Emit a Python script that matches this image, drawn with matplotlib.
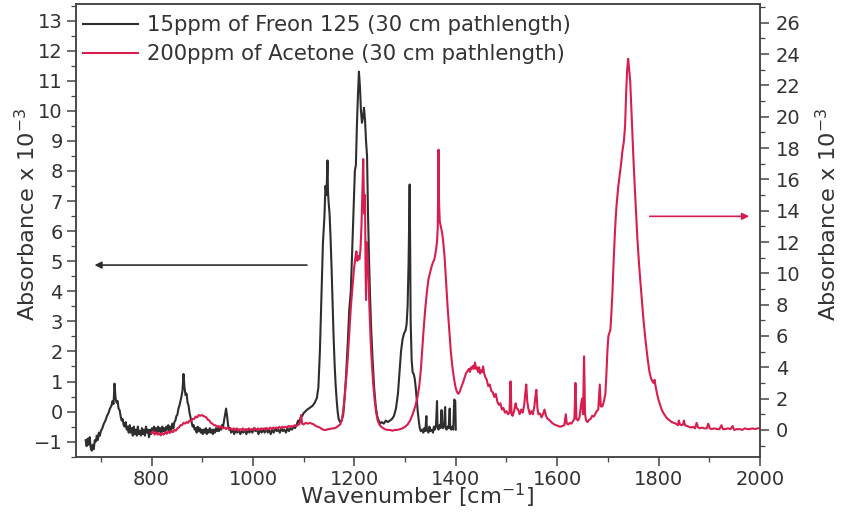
import matplotlib
matplotlib.use("Agg")
import matplotlib.pyplot as plt
from matplotlib.ticker import MultipleLocator
from matplotlib.lines import Line2D

plt.rcParams['font.family'] = ['DejaVu Sans']
plt.rcParams['mathtext.default'] = 'regular'

# ---------------- data ----------------
freon_x = [670, 672, 674, 676, 678, 680, 682, 684, 686, 688, 690, 692, 694, 696, 698, 700, 703, 706, 709, 712,
           715, 718, 721, 723, 725, 727, 729, 731, 733, 735, 737, 739, 741, 743, 745, 747, 749, 751, 753, 755,
           757, 759, 761, 763, 765, 767, 769, 771, 773, 775, 777, 779, 781, 783, 785, 787, 789, 791, 793, 795,
           797, 799, 801, 803, 805, 807, 809, 811, 813, 815, 817, 819, 821, 823, 825, 827, 829, 831, 833, 835,
           837, 839, 841, 843, 845, 847, 849, 851, 853, 855, 857, 859, 861, 863, 865, 867, 869, 871, 873, 875,
           877, 879, 881, 883, 885, 887, 889, 891, 893, 895, 897, 899, 901, 903, 905, 907, 909, 911, 913, 915,
           917, 919, 921, 923, 925, 927, 929, 931, 933, 935, 937, 939, 941, 943, 945, 947, 949, 951, 953, 955,
           957, 960, 963, 966, 969, 972, 975, 978, 981, 984, 987, 990, 993, 996, 999, 1002, 1005, 1008, 1011, 1014,
           1017, 1020, 1023, 1026, 1029, 1032, 1035, 1038, 1041, 1044, 1047, 1050, 1053, 1056, 1059, 1062, 1065, 1068, 1071, 1074,
           1077, 1080, 1083, 1086, 1089, 1091, 1094, 1097, 1100, 1103, 1106, 1110, 1114, 1118, 1122, 1126, 1129, 1132, 1135, 1138,
           1141, 1143, 1145, 1147, 1148, 1149, 1151, 1153, 1155, 1157, 1159, 1161, 1163, 1165, 1167, 1169, 1172, 1175, 1178, 1181,
           1184, 1187, 1190, 1193, 1196, 1199, 1201, 1203, 1205, 1207, 1209, 1211, 1213, 1215, 1217, 1219, 1221, 1223, 1225, 1227,
           1229, 1231, 1233, 1236, 1239, 1242, 1245, 1248, 1251, 1254, 1258, 1262, 1266, 1270, 1274, 1278, 1282, 1286, 1289, 1292,
           1295, 1298, 1301, 1303, 1305, 1307, 1309, 1310, 1311, 1313, 1315, 1317, 1319, 1321, 1323, 1325, 1327, 1329, 1331, 1334,
           1336, 1338, 1340, 1342, 1343, 1346, 1348, 1350, 1353, 1355, 1357, 1359, 1361, 1363, 1364, 1366, 1368, 1370, 1372, 1373,
           1375, 1377, 1379, 1380, 1382, 1384, 1386, 1388, 1389, 1391, 1393, 1395, 1397, 1399, 1400]
freon_y = [-0.95, -1.15, -0.9, -1.1, -0.85, -1.2, -1.3, -1.1, -1.25, -0.95, -1.0, -0.8, -0.95, -0.7, -0.8, -0.65, -0.55, -0.4, -0.3, -0.15,
           -0.05, 0.1, 0.2, 0.35, 0.25, 0.93, 0.45, 0.3, 0.35, 0.1, 0.05, -0.15, -0.3, -0.25, -0.45, -0.5, -0.35, -0.6, -0.5, -0.7,
           -0.45, -0.7, -0.55, -0.8, -0.5, -0.75, -0.6, -0.8, -0.5, -0.75, -0.65, -0.8, -0.55, -0.75, -0.6, -0.8, -0.5, -0.7, -0.6, -0.85,
           -0.6, -0.75, -0.55, -0.7, -0.5, -0.65, -0.55, -0.7, -0.5, -0.65, -0.55, -0.7, -0.5, -0.65, -0.55, -0.7, -0.5, -0.6, -0.45, -0.65,
           -0.5, -0.6, -0.4, -0.55, -0.35, -0.3, -0.15, -0.1, 0.1, 0.2, 0.35, 0.5, 0.7, 1.25, 0.8, 0.55, 0.6, 0.3, 0.2, -0.05,
           -0.2, -0.35, -0.5, -0.45, -0.6, -0.55, -0.7, -0.5, -0.65, -0.55, -0.7, -0.6, -0.75, -0.6, -0.7, -0.55, -0.75, -0.6, -0.7, -0.55,
           -0.7, -0.6, -0.75, -0.6, -0.7, -0.55, -0.65, -0.55, -0.65, -0.5, -0.6, -0.45, -0.5, -0.3, -0.1, 0.1, -0.15, -0.45, -0.6, -0.55,
           -0.7, -0.6, -0.75, -0.6, -0.7, -0.6, -0.75, -0.65, -0.7, -0.6, -0.75, -0.6, -0.7, -0.6, -0.7, -0.55, -0.65, -0.6, -0.75, -0.6,
           -0.7, -0.6, -0.7, -0.55, -0.7, -0.6, -0.75, -0.6, -0.7, -0.55, -0.65, -0.6, -0.7, -0.55, -0.65, -0.6, -0.7, -0.55, -0.65, -0.55,
           -0.6, -0.5, -0.55, -0.45, -0.3, -0.35, -0.2, -0.15, -0.05, 0.0, 0.05, 0.1, 0.15, 0.2, 0.3, 0.45, 0.8, 2.0, 3.8, 5.6,
           6.5, 7.5, 7.2, 8.35, 7.3, 7.0, 6.6, 5.8, 4.8, 3.6, 2.5, 1.6, 0.9, 0.4, 0.0, -0.25, -0.35, -0.3, -0.1, 0.5,
           1.3, 2.3, 3.4, 4.0, 5.5, 7.0, 8.0, 8.2, 9.5, 10.5, 11.3, 10.8, 10.0, 9.6, 9.8, 10.1, 9.7, 9.0, 8.5, 6.5,
           5.0, 3.8, 2.8, 1.7, 0.8, 0.2, -0.15, -0.3, -0.4, -0.35, -0.4, -0.3, -0.35, -0.3, -0.25, -0.15, 0.1, 0.6, 1.3, 2.0,
           2.4, 2.6, 2.7, 2.9, 3.5, 5.0, 7.55, 5.5, 3.0, 1.7, 1.3, 1.25, 1.1, 0.8, 0.4, 0.0, -0.3, -0.55, -0.65, -0.6,
           -0.7, -0.55, -0.65, -0.15, -0.6, -0.7, -0.5, -0.65, -0.6, -0.7, -0.5, -0.6, -0.45, 0.35, -0.5, -0.6, -0.45, -0.55, 0.05, -0.5,
           -0.55, -0.4, 0.15, -0.55, -0.6, -0.5, -0.55, 0.1, -0.55, -0.6, -0.5, -0.6, 0.4, 0.35, -0.6]

acetone_x = [800, 803, 806, 809, 812, 815, 818, 821, 824, 827, 830, 833, 836, 839, 842, 845, 848, 851, 854, 857,
             860, 863, 866, 869, 872, 875, 878, 881, 884, 887, 890, 893, 896, 899, 902, 905, 908, 911, 914, 917,
             920, 923, 926, 929, 932, 935, 938, 941, 944, 947, 950, 953, 956, 959, 962, 965, 968, 971, 974, 977,
             980, 983, 986, 989, 992, 995, 998, 1001, 1004, 1007, 1010, 1013, 1016, 1019, 1022, 1025, 1028, 1031, 1034, 1037,
             1040, 1043, 1046, 1049, 1052, 1055, 1058, 1061, 1064, 1067, 1070, 1073, 1076, 1079, 1082, 1085, 1088, 1091, 1093, 1095,
             1097, 1100, 1104, 1108, 1112, 1116, 1120, 1124, 1128, 1132, 1136, 1140, 1144, 1148, 1152, 1156, 1160, 1164, 1168, 1172,
             1175, 1178, 1181, 1184, 1187, 1190, 1193, 1196, 1199, 1202, 1204, 1206, 1208, 1210, 1212, 1214, 1216, 1217.5, 1219, 1220,
             1221, 1222, 1223, 1224, 1226, 1228, 1230, 1232, 1234, 1237, 1240, 1243, 1246, 1250, 1255, 1260, 1265, 1270, 1275, 1280,
             1285, 1290, 1295, 1300, 1305, 1310, 1315, 1320, 1324, 1328, 1331, 1334, 1337, 1340, 1343, 1346, 1349, 1352, 1355, 1358,
             1361, 1363, 1364.5, 1366, 1367, 1368.5, 1371, 1373, 1375, 1378, 1381, 1384, 1387, 1390, 1393, 1396, 1399, 1402, 1405, 1408,
             1411, 1414, 1417, 1420, 1423, 1426, 1428, 1430, 1432, 1434, 1436, 1438, 1440, 1442, 1444, 1446, 1448, 1450, 1452, 1454,
             1456, 1458, 1461, 1464, 1467, 1470, 1473, 1476, 1479, 1482, 1485, 1488, 1491, 1494, 1497, 1500, 1503, 1506, 1508, 1510,
             1512, 1515, 1518, 1520, 1523, 1526, 1529, 1532, 1535, 1537, 1539, 1541, 1543, 1546, 1549, 1552, 1555, 1557, 1559, 1561,
             1563, 1566, 1569, 1572, 1575, 1578, 1581, 1584, 1587, 1590, 1594, 1598, 1602, 1606, 1610, 1614, 1617, 1619, 1622, 1625,
             1628, 1631, 1634, 1636, 1638, 1641, 1644, 1647, 1649, 1651, 1653, 1655, 1657, 1660, 1663, 1666, 1669, 1672, 1675, 1678,
             1681, 1684, 1686, 1689, 1692, 1695, 1697, 1699, 1701, 1703, 1705, 1707, 1709, 1711, 1713, 1715, 1717, 1720, 1723, 1726,
             1729, 1731, 1732, 1734, 1736, 1738, 1740, 1742, 1744, 1746, 1748, 1750, 1752, 1755, 1758, 1761, 1764, 1767, 1770, 1773,
             1776, 1779, 1782, 1785, 1788, 1790, 1792, 1794, 1797, 1800, 1803, 1806, 1810, 1814, 1818, 1822, 1826, 1830, 1834, 1838,
             1840, 1842, 1845, 1848, 1850, 1852, 1856, 1860, 1864, 1868, 1872, 1875, 1878, 1882, 1886, 1890, 1895, 1898, 1901, 1905,
             1910, 1915, 1920, 1924, 1927, 1932, 1937, 1942, 1946, 1949, 1955, 1960, 1965, 1970, 1975, 1980, 1985, 1990, 1995, 2000]
acetone_y = [-0.2, -0.1, -0.3, -0.15, -0.3, -0.2, -0.35, -0.2, -0.3, -0.15, -0.25, -0.1, -0.2, -0.05, -0.15, 0.0, -0.05, 0.1, 0.15, 0.3,
             0.3, 0.45, 0.4, 0.5, 0.45, 0.6, 0.55, 0.7, 0.7, 0.85, 0.8, 0.95, 0.9, 0.95, 0.9, 0.85, 0.8, 0.65, 0.6, 0.45,
             0.4, 0.3, 0.3, 0.2, 0.25, 0.15, 0.2, 0.1, 0.15, 0.05, 0.15, 0.05, 0.1, 0.0, 0.1, 0.0, 0.1, -0.05, 0.05, 0.0,
             0.1, -0.05, 0.05, 0.0, 0.1, 0.0, 0.05, 0.0, 0.1, 0.0, 0.1, 0.0, 0.1, 0.05, 0.1, 0.0, 0.1, 0.05, 0.15, 0.05,
             0.15, 0.1, 0.15, 0.1, 0.2, 0.1, 0.2, 0.15, 0.2, 0.15, 0.25, 0.2, 0.25, 0.2, 0.3, 0.25, 0.3, 0.35, 0.5, 0.95,
             0.4, 0.35, 0.45, 0.4, 0.45, 0.4, 0.35, 0.25, 0.2, 0.15, 0.05, 0.0, 0.0, 0.05, 0.05, 0.1, 0.1, 0.15, 0.25, 0.35,
             0.6, 1.2, 2.2, 3.3, 4.6, 6.2, 7.8, 9.0, 10.2, 11.0, 11.4, 10.8, 11.1, 10.9, 11.5, 13.0, 15.5, 17.3, 14.5, 13.8,
             15.0, 10.5, 8.3, 12.0, 11.2, 9.5, 7.5, 5.8, 4.5, 3.0, 1.9, 1.1, 0.6, 0.3, 0.15, 0.05, 0.0, 0.0, -0.05, 0.0,
             0.0, 0.05, 0.1, 0.2, 0.35, 0.6, 1.0, 1.5, 2.0, 2.8, 3.8, 5.2, 6.6, 7.8, 8.8, 9.6, 10.0, 10.4, 10.7, 10.9,
             11.5, 12.0, 13.0, 17.9, 14.5, 13.3, 12.9, 12.6, 12.1, 11.0, 9.4, 7.8, 6.4, 5.1, 4.1, 3.4, 2.8, 2.45, 2.3, 2.45,
             2.75, 3.0, 3.3, 3.6, 3.75, 3.9, 3.7, 4.0, 3.9, 4.1, 3.9, 4.3, 3.9, 4.0, 3.7, 4.0, 3.6, 3.8, 3.7, 4.05,
             3.6, 3.4, 3.2, 2.8, 2.9, 2.5, 2.4, 2.1, 2.3, 1.8, 1.6, 1.7, 1.3, 1.4, 1.1, 1.2, 1.0, 1.1, 3.1, 1.0,
             0.9, 1.2, 1.7, 1.4, 1.3, 1.0, 1.3, 1.1, 1.6, 2.3, 2.9, 1.8, 1.4, 1.0, 1.2, 1.0, 1.5, 2.1, 2.56, 1.4,
             1.0, 1.05, 0.8, 1.0, 1.3, 0.9, 0.7, 0.65, 0.55, 0.45, 0.35, 0.3, 0.25, 0.2, 0.25, 0.3, 1.0, 0.4, 0.35, 0.45,
             0.4, 0.55, 0.7, 3.0, 0.7, 0.6, 0.8, 1.6, 2.0, 1.0, 4.7, 1.0, 0.6, 0.5, 0.65, 0.7, 0.9, 0.85, 1.0, 1.2,
             1.3, 2.9, 1.5, 1.5, 1.8, 2.3, 3.5, 5.0, 6.0, 6.2, 6.4, 7.5, 8.8, 10.5, 12.0, 13.3, 14.3, 15.4, 16.2, 17.0,
             17.9, 18.3, 18.6, 19.5, 21.5, 23.0, 23.7, 23.0, 22.3, 20.8, 19.2, 17.6, 16.2, 14.3, 12.3, 10.8, 9.5, 8.3, 7.1, 6.1,
             5.2, 4.4, 3.7, 3.3, 3.1, 3.0, 3.2, 2.8, 2.3, 1.9, 1.6, 1.3, 1.05, 0.85, 0.7, 0.6, 0.5, 0.45, 0.4, 0.3,
             0.6, 0.35, 0.3, 0.35, 0.6, 0.3, 0.25, 0.2, 0.15, 0.2, 0.1, 0.45, 0.15, 0.1, 0.15, 0.1, 0.1, 0.4, 0.1, 0.05,
             0.1, 0.05, 0.05, 0.3, 0.05, 0.05, 0.1, 0.05, 0.25, 0.0, 0.05, 0.05, 0.0, 0.1, 0.05, 0.05, 0.1, 0.05, 0.1, 0.1]

labels = ["15ppm of Freon 125 (30 cm pathlength)", "200ppm of Acetone (30 cm pathlength)"]
x_major = [800, 1000, 1200, 1400, 1600, 1800, 2000]
left_ticks = list(range(-1, 14))
right_ticks = list(range(0, 27, 2))

# ---------------- style ----------------
BLACK = '#2e2e2e'
RED = '#d81e4e'
TXT = '#333333'

fig = plt.figure(figsize=(8.41, 5.16), dpi=100)
ax = fig.add_axes([76/841, 1-457/516, (760-76)/841, (457-4)/516])
ax2 = ax.twinx()

ax.plot(freon_x, freon_y, color=BLACK, lw=1.5)
ax2.plot(acetone_x, acetone_y, color=RED, lw=1.5)

ax.set_xlim(651, 2000)
ax.set_ylim(-1.51, 13.55)
ax2.set_ylim(-1.73, 27.2)

ax.set_xticks(x_major)
ax.xaxis.set_minor_locator(MultipleLocator(100))
ax.set_yticks(left_ticks)
ax.yaxis.set_minor_locator(MultipleLocator(0.5))
ax2.set_yticks(right_ticks)
ax2.yaxis.set_minor_locator(MultipleLocator(1))

for a in (ax, ax2):
    for s in a.spines.values():
        s.set_color('#444444')
        s.set_linewidth(1.1)
    a.tick_params(which='major', direction='out', length=6.5, width=1.1, colors='#444444',
                  labelcolor=TXT, labelsize=14)
    a.tick_params(which='minor', direction='out', length=3.5, width=0.9, colors='#444444')
ax.tick_params(axis='y', pad=3)
ax.tick_params(axis='x', pad=3)
ax2.tick_params(axis='y', pad=5)
ax.tick_params(top=False, which='both')

# axis labels
fig.text(417.5/841, 1-504/516, r'Wavenumber [cm$^{-1}$]', ha='center', va='baseline',
         fontsize=16.2, color=TXT)
fig.text(27/841, 1-214/516, r'Absorbance x 10$^{-3}$', ha='center', va='center',
         rotation=90, fontsize=16.2, color=TXT)
fig.text(828/841, 1-214/516, r'Absorbance x 10$^{-3}$', ha='center', va='center',
         rotation=90, fontsize=16.2, color=TXT)

# arrows
ax.annotate('', xy=(682, 4.87), xytext=(1112, 4.87),
            arrowprops=dict(arrowstyle='-|>', color=BLACK, lw=1.2, mutation_scale=10))
ax2.annotate('', xy=(1984, 13.64), xytext=(1777, 13.64),
             arrowprops=dict(arrowstyle='-|>', color=RED, lw=1.2, mutation_scale=10))

handles = [Line2D([], [], color=BLACK, lw=1.5), Line2D([], [], color=RED, lw=1.5)]
fs_leg = 15.2
leg = ax2.legend(handles, labels, loc='upper left', bbox_to_anchor=((83-76)/684, (457-15)/453),
                 frameon=False, fontsize=fs_leg, handlelength=2.6, handletextpad=0.42,
                 labelspacing=0.45, borderaxespad=0.0, borderpad=0.0)
for t in leg.get_texts():
    t.set_color(TXT)

fig.savefig('out.png', dpi=100)
